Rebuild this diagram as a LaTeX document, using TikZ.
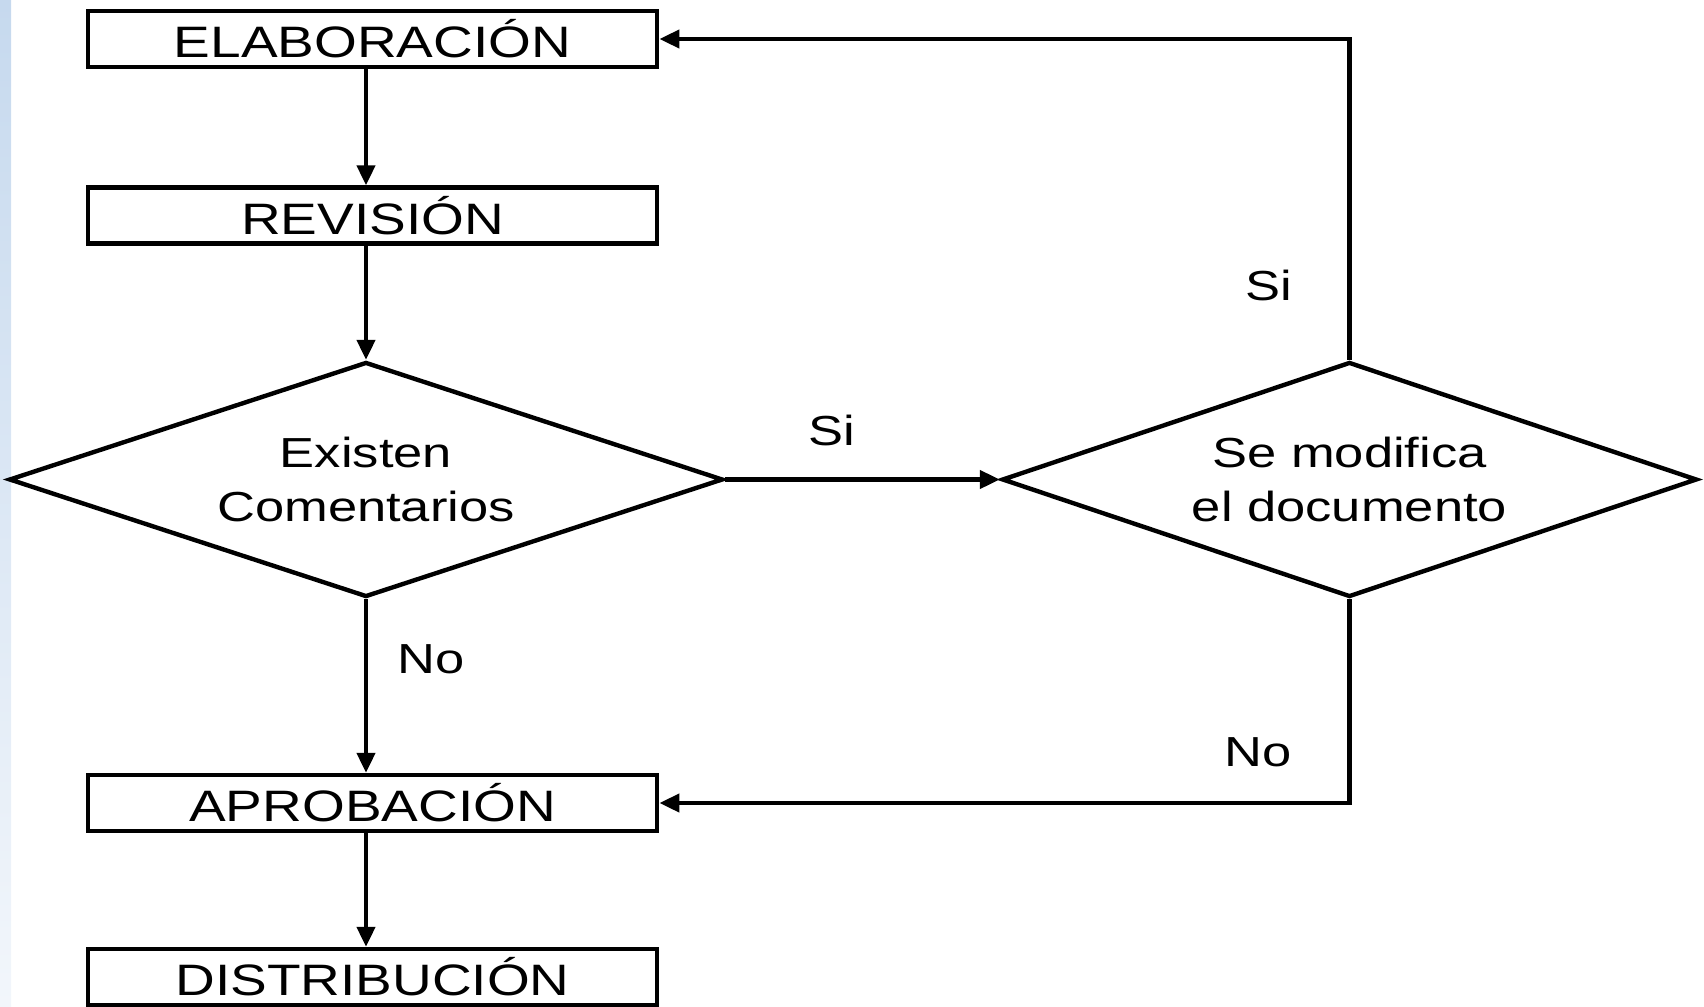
\documentclass[tikz,border=0pt]{standalone}
\usepackage{fontspec}
\setmainfont[FakeStretch=1.25]{Liberation Sans}
\usetikzlibrary{shapes.geometric,arrows.meta}
\definecolor{striptop}{HTML}{C6D9EE}
\definecolor{stripbot}{HTML}{F2F6FB}
\begin{document}
\begin{tikzpicture}[x=0.5pt,y=-0.5pt,
  box/.style={draw,line width=2.2pt,minimum width=284.75pt,minimum height=28pt,inner sep=0pt,font=\fontsize{22}{26}\selectfont},
  dec/.style={draw,shape=diamond,shape aspect=3,line width=2.2pt,inner sep=0pt,align=center,font=\fontsize{21}{27}\selectfont},
  lbl/.style={font=\fontsize{21}{25}\selectfont,inner sep=0pt},
  arr/.style={line width=2.2pt,-{Triangle[length=10pt,width=9pt]}}]
\useasboundingbox (0,0) rectangle (1704,1007);
\shade[top color=striptop,bottom color=stripbot] (0,0) rectangle (11,1007);
\node[box] (elab) at (372.5,39) {ELABORACIÓN};
\node[box] (rev) at (372.5,215.5) {REVISIÓN};
\node[box] (aprob) at (372.5,803) {APROBACIÓN};
\node[box] (dist) at (372.5,977) {DISTRIBUCIÓN};
\node[dec,minimum width=357pt,minimum height=117.5pt] (d1) at (366,479.5) {Existen\\Comentarios};
\node[dec,minimum width=347.5pt,minimum height=117.5pt] (d2) at (1349.5,479.5) {Se modifica\\el documento};
\draw[arr] (elab.south -| d1.north) -- (rev.north -| d1.north);
\draw[arr] (rev.south -| d1.north) -- (d1.north);
\draw[arr] (d1.south) -- (aprob.north -| d1.south);
\draw[arr] (aprob.south -| d1.south) -- (dist.north -| d1.south);
\draw[arr] (d1.east) -- (d2.west);
\draw[arr] (d2.north) |- (elab.east);
\draw[arr] (d2.south) |- (aprob.east);
\node[lbl] (si1) at (1269,285) {Si};
\node[lbl] (si2) at (832,430) {Si};
\node[lbl] (no1) at (431,659) {No};
\node[lbl] (no2) at (1258,752) {No};
\end{tikzpicture}
\end{document}
